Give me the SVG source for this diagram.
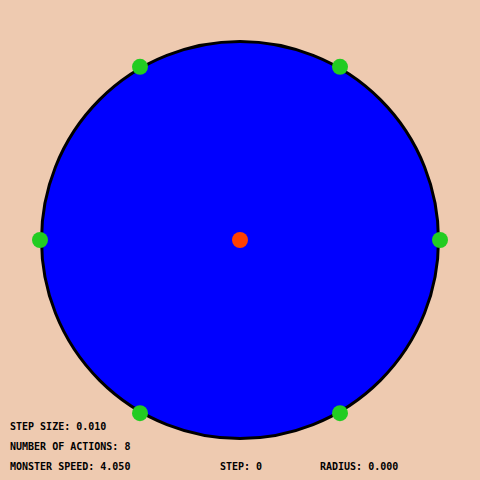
<svg xmlns="http://www.w3.org/2000/svg" width="480" height="480" viewBox="0 0 480 480">
<style>
.t{font-family:"DejaVu Sans Mono","Liberation Mono",monospace;font-size:10px;font-weight:bold;fill:#000}
.g{fill:#22cc22}
</style>
<rect width="480" height="480" fill="#eecab0"/>
<g id="arena">
<circle cx="240" cy="240" r="198.5" fill="#0000ff" stroke="#000" stroke-width="3"/>
</g>
<g id="monster-positions">
<circle class="g" cx="340" cy="66.8" r="8"/>
<circle class="g" cx="140" cy="66.8" r="8"/>
<circle class="g" cx="40" cy="240" r="8"/>
<circle class="g" cx="440" cy="240" r="8"/>
<circle class="g" cx="140" cy="413.2" r="8"/>
<circle class="g" cx="340" cy="413.2" r="8"/>
</g>
<g id="player">
<circle cx="240" cy="240" r="8" fill="#ff4000"/>
</g>
<g id="labels">
<text class="t" x="10" y="429.5">STEP SIZE: 0.010</text>
<text class="t" x="10" y="449.5">NUMBER OF ACTIONS: 8</text>
<text class="t" x="10" y="469.5">MONSTER SPEED: 4.050</text>
<text class="t" x="220" y="469.5">STEP: 0</text>
<text class="t" x="320" y="469.5">RADIUS: 0.000</text>
</g>
</svg>
